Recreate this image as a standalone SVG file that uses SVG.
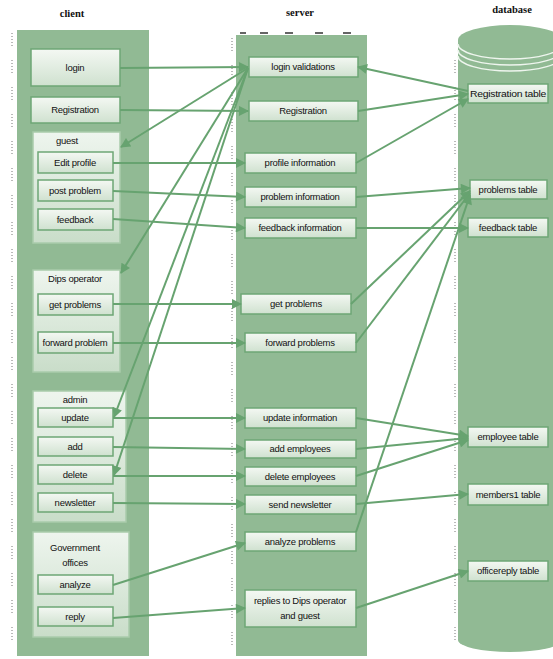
<svg xmlns="http://www.w3.org/2000/svg" width="553" height="659" viewBox="0 0 553 659">
<defs>
<linearGradient id="box" x1="0" y1="0" x2="0" y2="1">
<stop offset="0" stop-color="#f4f8f3"/>
<stop offset="1" stop-color="#cfe1cf"/>
</linearGradient>
<linearGradient id="grp" x1="0" y1="0" x2="0" y2="1">
<stop offset="0" stop-color="#eef5ee"/>
<stop offset="1" stop-color="#c9ddc9"/>
</linearGradient>
<marker id="ah" viewBox="0 0 10 10" refX="9" refY="5" markerWidth="11" markerHeight="10" markerUnits="userSpaceOnUse" orient="auto">
<path d="M0,0 L10,5 L0,10 z" fill="#67a370"/>
</marker>
</defs>
<style>
.panel{fill:#91ba94}
.box{fill:url(#box);stroke:#6ea675;stroke-width:1.5}
.grp{fill:url(#grp);stroke:#a9cbab;stroke-width:1.5}
.t{font-family:"Liberation Sans",Arial,sans-serif;font-size:9.5px;fill:#111;text-anchor:middle;letter-spacing:-0.25px}
.h{font-family:"Liberation Serif","Times New Roman",serif;font-size:10.5px;font-weight:bold;fill:#111;text-anchor:middle}
.c line{stroke:#67a370;stroke-width:2;fill:none;marker-end:url(#ah)}
.tick{stroke:#777;stroke-width:1;stroke-dasharray:1 2 1 2 1 2 1 2 1 14;fill:none}
</style>
<rect width="553" height="659" fill="#ffffff"/>

<!-- titles -->
<text class="h" x="72" y="17">client</text>
<text class="h" x="300" y="16">server</text>
<text class="h" x="512" y="13">database</text>

<!-- panels -->
<g id="client-panel">
<rect class="panel" x="17" y="30" width="132" height="626"/>
<line class="tick" x1="12" y1="33" x2="12" y2="650"/>
</g>
<g id="server-panel">
<rect class="panel" x="236" y="35" width="131" height="621"/>
<line class="tick" x1="232" y1="38" x2="232" y2="650"/>
<path d="M240,33 h6 M260,33 h8 M285,33 h8 M315,33 h8 M343,33 h8" stroke="#333" stroke-width="1.5"/>
</g>
<g id="database-cylinder">
<path class="panel" d="M458,40 A52,15 0 0 1 562,40 L562,640 A52,12 0 0 1 458,640 Z"/>
<path d="M458,44 A52,15 0 0 0 562,44 M458,50 A52,15 0 0 0 562,50 M458,56 A52,15 0 0 0 562,56" stroke="#eef5ee" stroke-width="1.5" fill="none"/>
<line class="tick" x1="455" y1="60" x2="455" y2="640"/>
</g>

<!-- client nodes -->
<g id="c-login"><rect class="box" x="31" y="49" width="89" height="37"/><text class="t" x="75" y="71">login</text></g>
<g id="c-registration"><rect class="box" x="31" y="97" width="89" height="26"/><text class="t" x="75" y="113">Registration</text></g>
<g id="c-guest">
<rect class="grp" x="33" y="132" width="87" height="111"/>
<text class="t" x="67" y="144">guest</text>
<g id="c-edit-profile"><rect class="box" x="38" y="152" width="75" height="21"/><text class="t" x="75" y="166">Edit profile</text></g>
<g id="c-post-problem"><rect class="box" x="38" y="180" width="75" height="21"/><text class="t" x="75" y="194">post problem</text></g>
<g id="c-feedback"><rect class="box" x="38" y="209" width="75" height="21"/><text class="t" x="75" y="223">feedback</text></g>
</g>
<g id="c-dips">
<rect class="grp" x="33" y="270" width="87" height="102"/>
<text class="t" x="75" y="282">Dips operator</text>
<g id="c-get-problems"><rect class="box" x="38" y="294" width="75" height="21"/><text class="t" x="75" y="308">get problems</text></g>
<g id="c-forward-problem"><rect class="box" x="38" y="332" width="75" height="21"/><text class="t" x="75" y="346">forward problem</text></g>
</g>
<g id="c-admin">
<rect class="grp" x="33" y="391" width="93" height="131"/>
<text class="t" x="75" y="403">admin</text>
<g id="c-update"><rect class="box" x="38" y="408" width="75" height="19"/><text class="t" x="75" y="421">update</text></g>
<g id="c-add"><rect class="box" x="38" y="437" width="75" height="19"/><text class="t" x="75" y="450">add</text></g>
<g id="c-delete"><rect class="box" x="38" y="465" width="75" height="19"/><text class="t" x="75" y="478">delete</text></g>
<g id="c-newsletter"><rect class="box" x="38" y="493" width="75" height="19"/><text class="t" x="75" y="506">newsletter</text></g>
</g>
<g id="c-gov">
<rect class="grp" x="33" y="532" width="96" height="105"/>
<text class="t" x="75" y="551">Government</text>
<text class="t" x="75" y="566">offices</text>
<g id="c-analyze"><rect class="box" x="38" y="575" width="75" height="19"/><text class="t" x="75" y="588">analyze</text></g>
<g id="c-reply"><rect class="box" x="38" y="607" width="75" height="19"/><text class="t" x="75" y="620">reply</text></g>
</g>

<!-- server nodes -->
<g id="s-login-validations"><rect class="box" x="249" y="57" width="109" height="20"/><text class="t" x="303" y="70">login validations</text></g>
<g id="s-registration"><rect class="box" x="249" y="101" width="109" height="20"/><text class="t" x="303" y="114">Registration</text></g>
<g id="s-profile"><rect class="box" x="245" y="153" width="111" height="20"/><text class="t" x="300" y="166">profile information</text></g>
<g id="s-problem"><rect class="box" x="245" y="187" width="111" height="20"/><text class="t" x="300" y="200">problem information</text></g>
<g id="s-feedback"><rect class="box" x="245" y="218" width="111" height="20"/><text class="t" x="300" y="231">feedback information</text></g>
<g id="s-get-problems"><rect class="box" x="241" y="294" width="110" height="20"/><text class="t" x="296" y="307">get problems</text></g>
<g id="s-forward-problems"><rect class="box" x="245" y="333" width="111" height="19"/><text class="t" x="300" y="346">forward problems</text></g>
<g id="s-update"><rect class="box" x="245" y="408" width="111" height="20"/><text class="t" x="300" y="421">update information</text></g>
<g id="s-add"><rect class="box" x="245" y="440" width="111" height="18"/><text class="t" x="300" y="452">add employees</text></g>
<g id="s-delete"><rect class="box" x="245" y="467" width="111" height="19"/><text class="t" x="300" y="480">delete employees</text></g>
<g id="s-newsletter"><rect class="box" x="245" y="495" width="111" height="19"/><text class="t" x="300" y="508">send newsletter</text></g>
<g id="s-analyze"><rect class="box" x="245" y="532" width="111" height="19"/><text class="t" x="300" y="545">analyze problems</text></g>
<g id="s-replies"><rect class="box" x="245" y="590" width="111" height="37"/><text class="t" x="300" y="604">replies to Dips operator</text><text class="t" x="300" y="619">and guest</text></g>

<!-- database nodes -->
<g id="d-registration"><rect class="box" x="468" y="84" width="80" height="19"/><text class="t" x="508" y="97" textLength="76" lengthAdjust="spacingAndGlyphs">Registration table</text></g>
<g id="d-problems"><rect class="box" x="470" y="180" width="77" height="19"/><text class="t" x="508" y="193">problems table</text></g>
<g id="d-feedback"><rect class="box" x="468" y="218" width="80" height="19"/><text class="t" x="508" y="231">feedback table</text></g>
<g id="d-employee"><rect class="box" x="468" y="427" width="80" height="20"/><text class="t" x="508" y="440">employee table</text></g>
<g id="d-members"><rect class="box" x="468" y="484" width="80" height="21"/><text class="t" x="508" y="498">members1 table</text></g>
<g id="d-officereply"><rect class="box" x="468" y="561" width="80" height="20"/><text class="t" x="508" y="574">officereply table</text></g>

<!-- connectors -->
<g id="connectors" class="c">
<line x1="120" y1="68" x2="248" y2="67"/>
<line x1="120" y1="110" x2="248" y2="111"/>
<line x1="113" y1="163" x2="245" y2="163"/>
<line x1="113" y1="191" x2="245" y2="197"/>
<line x1="113" y1="219" x2="245" y2="228"/>
<line x1="113" y1="304" x2="241" y2="304"/>
<line x1="113" y1="343" x2="245" y2="343"/>
<line x1="113" y1="418" x2="245" y2="418"/>
<line x1="113" y1="447" x2="245" y2="449"/>
<line x1="113" y1="476" x2="245" y2="476"/>
<line x1="113" y1="503" x2="245" y2="504"/>
<line x1="113" y1="585" x2="245" y2="543"/>
<line x1="113" y1="618" x2="245" y2="608"/>

<line x1="248" y1="68" x2="121" y2="147"/>
<line x1="248" y1="68" x2="121" y2="273"/>
<line x1="248" y1="68" x2="114" y2="417"/>
<line x1="248" y1="68" x2="114" y2="475"/>

<line x1="468" y1="91" x2="358" y2="67"/>
<line x1="358" y1="111" x2="468" y2="94"/>
<line x1="356" y1="163" x2="468" y2="99"/>
<line x1="356" y1="197" x2="470" y2="188"/>
<line x1="356" y1="228" x2="468" y2="228"/>
<line x1="351" y1="304" x2="470" y2="191"/>
<line x1="356" y1="343" x2="470" y2="193"/>
<line x1="356" y1="418" x2="468" y2="436"/>
<line x1="356" y1="449" x2="468" y2="438"/>
<line x1="356" y1="476" x2="468" y2="440"/>
<line x1="356" y1="504" x2="468" y2="494"/>
<line x1="356" y1="532" x2="470" y2="195"/>
<line x1="356" y1="608" x2="468" y2="571"/>
</g>
</svg>
